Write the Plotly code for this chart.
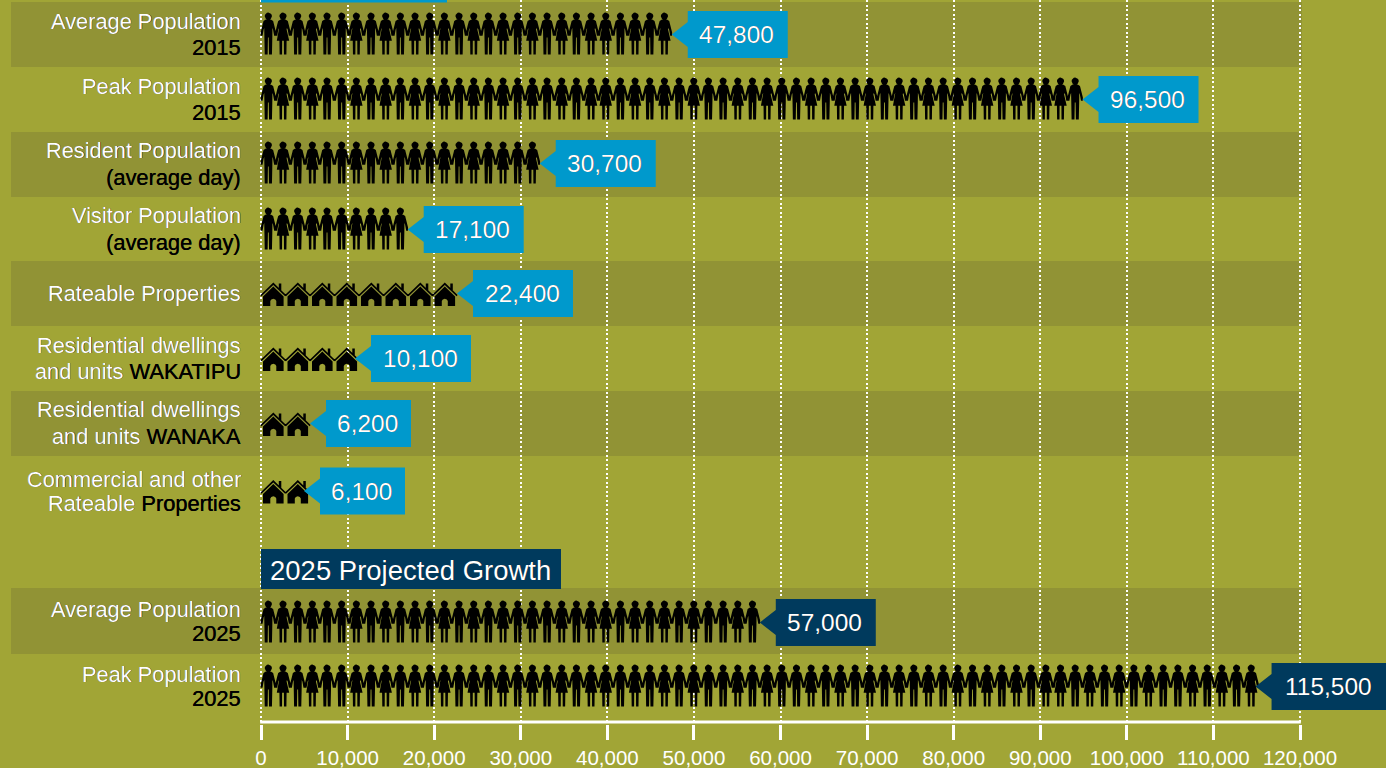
import math
import plotly.graph_objects as go

# ---- data ----
row_values = [47800, 96500, 30700, 17100, 22400, 10100, 6200, 6100, 57000, 115500]
row_labels = ["47,800", "96,500", "30,700", "17,100", "22,400", "10,100", "6,200", "6,100", "57,000", "115,500"]
row_names = ["Average Population 2015", "Peak Population 2015", "Resident Population (average day)",
             "Visitor Population (average day)", "Rateable Properties", "Residential dwellings and units WAKATIPU",
             "Residential dwellings and units WANAKA", "Commercial and other Rateable Properties",
             "Average Population 2025", "Peak Population 2025"]
icon_kinds = ["person", "person", "person", "person", "house", "house", "house", "house", "person", "person"]
icon_counts = [28, 56, 19, 10, 8, 4, 2, 2, 34, 68]
tick_values = [0, 10000, 20000, 30000, 40000, 50000, 60000, 70000, 80000, 90000, 100000, 110000, 120000]
label_lines = [
    [("Average Population", "white"), ("2015", "black")],
    [("Peak Population", "white"), ("2015", "black")],
    [("Resident Population", "white"), ("(average day)", "black")],
    [("Visitor Population", "white"), ("(average day)", "black")],
    [("Rateable Properties", "white")],
    [("Residential dwellings", "white"), ("and units <span style='color:black'>WAKATIPU</span>", "white")],
    [("Residential dwellings", "white"), ("and units <span style='color:black'>WANAKA</span>", "white")],
    [("Commercial and other", "white"), ("Rateable <span style='color:black'>Properties</span>", "white")],
    [("Average Population", "white"), ("2025", "black")],
    [("Peak Population", "white"), ("2025", "black")],
]
section_title = "2025 Projected Growth"

# ---- layout constants (pixels) ----
BG = "#A1A536"
BAND = "#919335"
BLUE = "#0099CC"
NAVY = "#003A5D"
FONT = "Liberation Sans"
HEAVY = "0.3px 0 0 currentColor"
X0 = 261
PX_PER_UNIT = 1039 / 120000
PLOT_H = 724
row_centres = [34.5, 99.5, 163.5, 229.5, 293.5, 358.5, 423.5, 491, 622.5, 686.5]
row_colours = [BLUE] * 8 + [NAVY] * 2
callout_nudge = [0, 0, 0, 0, 0, -4, 0, -6, 0, -3]
line_centres = [[21, 47], [86, 112], [150, 177], [215, 242], [293], [345, 371], [409, 436], [479, 503], [609, 633], [674, 698]]
bands = [(2, 67), (132, 197), (261, 326), (391, 456), (588, 654)]
PERSON_W = 14.67
HOUSE_W = 24.5
gender_pattern = ("MDMDMM" + "DM" * 8 + "DD" + "MDMDMDMM" + "DMDMM" + "DM" * 8 + "DD" + "MDMDMDMM" + "DMDMD")


def vx(px):
    return (px - X0) / PX_PER_UNIT


MALE = [(-2.5, -15), (2.5, -15), (4.8, -13.5), (5.8, -10), (7.7, -2), (7.6, 1.2), (5.8, 1.2), (4.7, -5), (4.1, -6.5),
        (4, 2), (3.6, 20), (0.7, 20), (0.4, 3), (-0.4, 3), (-0.7, 20), (-3.6, 20), (-4, 2), (-4.1, -6.5), (-4.7, -5),
        (-5.8, 1.2), (-7.6, 1.2), (-7.7, -2), (-5.8, -10), (-4.8, -13.5)]
DRESS = [(-2.5, -15), (2.5, -15), (4.8, -13.5), (5.8, -10), (7.7, -2), (7.6, 1.2), (5.8, 1.2), (4.7, -5), (3.9, -6.5),
         (3.6, -5), (6.2, 6.3), (3.6, 6.3), (3.4, 20), (1, 20), (0.9, 6.3), (-0.9, 6.3), (-1, 20), (-3.4, 20), (-3.6, 6.3),
         (-6.2, 6.3), (-3.6, -5), (-3.9, -6.5), (-4.7, -5), (-5.8, 1.2), (-7.6, 1.2), (-7.7, -2), (-5.8, -10), (-4.8, -13.5)]
HEAD = [(3.6 * math.cos(a * math.pi / 8), -18.3 + 3.6 * math.sin(a * math.pi / 8)) for a in range(16)]
ROOF = [(-12.8, 1.5), (0, -11), (12.8, 1.5), (11.8, 2.8), (0, -8.5), (-11.8, 2.8)]
CHIMNEY = [(5.5, -10), (8, -10), (8, -3), (5.5, -5.5)]
BODY = [(0, -7), (10.3, 3), (10.3, 12.5), (3, 12.5), (3, 7.5), (2, 6), (0, 5.3), (-2, 6), (-3, 7.5), (-3, 12.5),
        (-10.3, 12.5), (-10.3, 3)]


def add_poly(xs, ys, poly, cx, cy):
    for dx, dy in poly:
        xs.append(vx(cx + dx))
        ys.append(cy + dy)
    xs.append(vx(cx + poly[0][0]))
    ys.append(cy + poly[0][1])
    xs.append(None)
    ys.append(None)


fig = go.Figure()

for r, name in enumerate(row_names):
    xs, ys = [], []
    cy = row_centres[r]
    if icon_kinds[r] == "person":
        for i in range(icon_counts[r]):
            cx = X0 + PERSON_W * (i + 0.5)
            add_poly(xs, ys, MALE if gender_pattern[i] == "M" else DRESS, cx, cy)
            add_poly(xs, ys, HEAD, cx, cy)
        end_px = X0 + PERSON_W * icon_counts[r]
    else:
        for i in range(icon_counts[r]):
            cx = X0 + 12.3 + HOUSE_W * i
            add_poly(xs, ys, ROOF, cx, cy)
            add_poly(xs, ys, CHIMNEY, cx, cy)
            add_poly(xs, ys, BODY, cx, cy)
        end_px = X0 + HOUSE_W * icon_counts[r]
    fig.add_trace(go.Scatter(x=xs, y=ys, mode="lines", line=dict(width=0, color="black"), fill="toself",
                             fillcolor="black", name=name, hoverinfo="skip", showlegend=False))
    # value call-out
    left = end_px + 16 + callout_nudge[r]
    width = 15 * len(row_labels[r]) + 10
    tip = left - 16
    cx_pts = [tip, left, left, left + width, left + width, left, left, tip]
    cy_pts = [cy, cy - 12.5, cy - 23.5, cy - 23.5, cy + 23.5, cy + 23.5, cy + 12.5, cy]
    fig.add_trace(go.Scatter(x=[vx(p) for p in cx_pts], y=cy_pts, mode="lines", line=dict(width=0, color=row_colours[r]),
                             fill="toself", fillcolor=row_colours[r], hoverinfo="skip", showlegend=False))
    fig.add_annotation(x=vx(left + width / 2), y=cy, text=row_labels[r], showarrow=False, xanchor="center",
                       yanchor="middle", xshift=-1, font=dict(family=FONT, size=24.5, color="white", shadow=HEAVY))
    # row label
    for (text, colour), ly in zip(label_lines[r], line_centres[r]):
        fig.add_annotation(x=vx(241), y=ly, text=text, showarrow=False, xanchor="right", yanchor="middle",
                           xshift=2, font=dict(family=FONT, size=21.8, color=colour, shadow=HEAVY))

shapes = []
for top, bottom in bands:
    shapes.append(dict(type="rect", xref="x", yref="y", x0=vx(11), x1=vx(1302), y0=top, y1=bottom,
                       fillcolor=BAND, line_width=0, layer="below"))
shapes.append(dict(type="rect", xref="x", yref="y", x0=vx(261), x1=vx(447), y0=0, y1=2.5,
                   fillcolor=BLUE, line_width=0, layer="above"))
shapes.append(dict(type="rect", xref="x", yref="y", x0=vx(261), x1=vx(561), y0=549, y1=589,
                   fillcolor=NAVY, line_width=0, layer="above"))
shapes.append(dict(type="line", xref="x", yref="y", x0=-100, x1=120100, y0=722, y1=722,
                   line=dict(color="white", width=3), layer="above"))
fig.add_annotation(x=vx(268), y=570, text=section_title, showarrow=False, xanchor="left", yanchor="middle",
                   font=dict(family=FONT, size=27.5, color="white", shadow=HEAVY))

fig.update_layout(
    width=1386, height=768, margin=dict(l=0, r=0, t=0, b=768 - PLOT_H), paper_bgcolor=BG, plot_bgcolor=BG,
    shapes=shapes, showlegend=False,
    xaxis=dict(range=[vx(0), vx(1386)], tickmode="array", tickvals=tick_values, tickformat=",d",
               showgrid=True, gridcolor="white", gridwidth=2, griddash="2px,2.5px", zeroline=False, showline=False,
               ticks="outside", ticklen=15, tickwidth=3, tickcolor="white",
               tickfont=dict(family=FONT, size=20.5, color="white")),
    yaxis=dict(range=[PLOT_H, 0], visible=False, showgrid=False, zeroline=False),
)
fig.write_html("out.html", config=dict(displayModeBar=False),
               post_script="document.body.style.margin='0';document.documentElement.style.overflow='hidden';")
